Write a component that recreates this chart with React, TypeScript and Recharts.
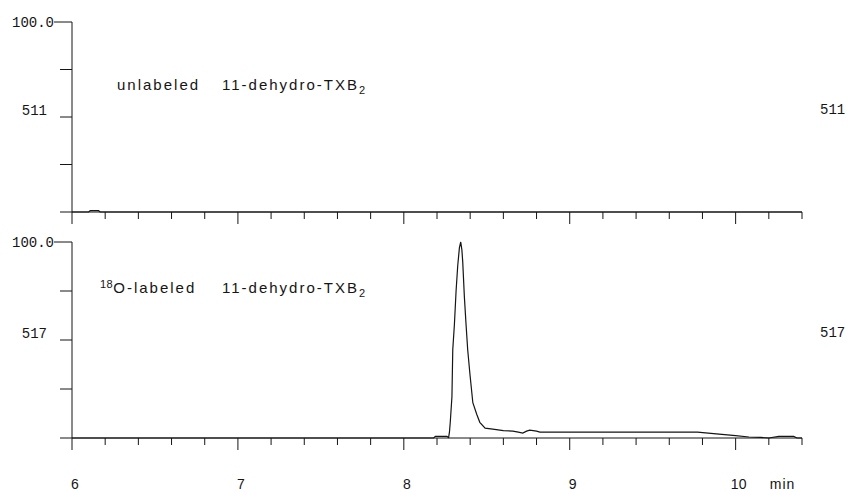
import { LineChart, Line, XAxis, YAxis } from "recharts";

// retention time ticks (min), every 0.2
const TIME_TICKS = [
  6, 6.2, 6.4, 6.6, 6.8, 7, 7.2, 7.4, 7.6, 7.8, 8, 8.2, 8.4, 8.6, 8.8, 9, 9.2,
  9.4, 9.6, 9.8, 10, 10.2, 10.4,
];
const Y_TICKS = [0, 25, 50, 75, 100];

const ION_TOP = "511";
const ION_BOTTOM = "517";
const FULL_SCALE = "100.0";

// m/z 511 trace, unlabeled
const UNLABELED_TIME = [6, 6.1, 6.11, 6.16, 6.17, 10.4];
const UNLABELED_PCT = [0, 0, 0.7, 0.7, 0, 0];

// m/z 517 trace, 18O-labeled
const LABELED_TIME = [
  6, 8.18, 8.19, 8.26, 8.27, 8.275, 8.28, 8.29, 8.295, 8.305, 8.315, 8.325,
  8.335, 8.343, 8.35, 8.355, 8.365, 8.375, 8.385, 8.398, 8.416, 8.44, 8.458,
  8.49, 8.536, 8.6, 8.657, 8.69, 8.717, 8.74, 8.759, 8.8, 8.82, 9.2, 9.5, 9.77,
  9.9, 10, 10.08, 10.15, 10.2, 10.26, 10.35, 10.37, 10.4,
];
const LABELED_PCT = [
  0, 0, 0.8, 0.8, 0.3, 3, 8, 21, 45, 58, 75, 88, 97, 100, 96, 90, 72, 58, 45,
  33, 18, 12, 8, 5, 4.5, 3.8, 3.5, 3, 2.5, 3.5, 4, 3.5, 3, 3, 3, 3, 2, 1.2, 0.5,
  0.3, 0, 0.8, 0.8, 0, 0,
];

const topData = UNLABELED_TIME.map((t, i) => ({ t, v: UNLABELED_PCT[i] }));
const bottomData = LABELED_TIME.map((t, i) => ({ t, v: LABELED_PCT[i] }));

const INK = "#151515";
const MONO = "'Liberation Mono', monospace";
const SANS = "'Liberation Sans', Arial, sans-serif";
const PLOT_W = 730;

const XTick = (props: any) => {
  const { x, y, payload, showLabel } = props;
  const v = payload.value as number;
  const major = Math.abs(v - Math.round(v)) < 1e-6;
  return (
    <g>
      <line x1={x} x2={x} y1={y} y2={y + (major ? 12 : 7)} stroke={INK} strokeWidth={1} />
      {showLabel && major && (
        <text x={x + 3} y={y + 51} textAnchor="middle" fontFamily={SANS} fontSize={14} fill={INK}>
          {String(v)}
        </text>
      )}
      {showLabel && v === 10 && (
        <text x={x + 47} y={y + 51} textAnchor="middle" fontFamily={SANS} fontSize={14} letterSpacing={1} fill={INK}>
          min
        </text>
      )}
    </g>
  );
};

const LeftTick = (props: any) => {
  const { x, y, payload, ion } = props;
  const v = payload.value as number;
  const len = v === 100 ? 18 : 12;
  return (
    <g>
      <line x1={x - len} x2={x} y1={y} y2={y} stroke={INK} strokeWidth={1} />
      {v === 100 && (
        <text x={x - 18} y={y + 5} textAnchor="end" fontFamily={MONO} fontSize={14} fill={INK}>
          {FULL_SCALE}
        </text>
      )}
      {v === 50 && (
        <>
          <text x={x - 25} y={y - 2} textAnchor="end" fontFamily={MONO} fontSize={14} fill={INK}>
            {ion}
          </text>
          <text x={x + PLOT_W + 18} y={y - 3} textAnchor="start" fontFamily={MONO} fontSize={14} fill={INK}>
            {ion}
          </text>
        </>
      )}
    </g>
  );
};

const Panel = ({ data, ion, top, height, xHeight, showLabels }: any) => (
  <div style={{ position: "absolute", left: 0, top }}>
    <LineChart width={849} height={height} data={data} margin={{ top: 22, left: 12, right: 47, bottom: 0 }}>
      <XAxis
        dataKey="t"
        type="number"
        domain={[6, 10.4]}
        ticks={TIME_TICKS}
        interval={0}
        allowDataOverflow
        height={xHeight}
        tickLine={false}
        tickSize={0}
        tickMargin={0}
        stroke={INK}
        tick={<XTick showLabel={showLabels} />}
      />
      <YAxis
        type="number"
        domain={[0, 100]}
        ticks={Y_TICKS}
        interval={0}
        width={60}
        tickLine={false}
        tickSize={0}
        tickMargin={0}
        stroke={INK}
        tick={<LeftTick ion={ion} />}
      />
      <Line
        type="linear"
        dataKey="v"
        stroke={INK}
        strokeWidth={1.2}
        dot={false}
        isAnimationActive={false}
      />
    </LineChart>
  </div>
);

const textStyle: any = {
  position: "absolute",
  fontFamily: SANS,
  fontSize: 15,
  lineHeight: "15px",
  letterSpacing: 2,
  color: INK,
  whiteSpace: "pre",
};

const Sub = ({ children }: any) => (
  <span style={{ fontSize: 11, position: "relative", top: 4, letterSpacing: 0 }}>{children}</span>
);

export default function App() {
  return (
    <div style={{ position: "absolute", left: 0, top: 0, width: 849, height: 492, background: "#fff" }}>
      <Panel data={topData} ion={ION_TOP} top={0} height={230} xHeight={18} showLabels={false} />
      <Panel data={bottomData} ion={ION_BOTTOM} top={220} height={272} xHeight={54} showLabels />

      <div style={{ ...textStyle, left: 117, top: 77 }}>unlabeled</div>
      <div style={{ ...textStyle, left: 222, top: 77 }}>
        11-dehydro-TXB<Sub>2</Sub>
      </div>

      <div style={{ ...textStyle, left: 100, top: 280 }}>
        <span style={{ fontSize: 11, position: "relative", top: -5, letterSpacing: 0.5 }}>18</span>O-labeled
      </div>
      <div style={{ ...textStyle, left: 222, top: 280 }}>
        11-dehydro-TXB<Sub>2</Sub>
      </div>
    </div>
  );
}
